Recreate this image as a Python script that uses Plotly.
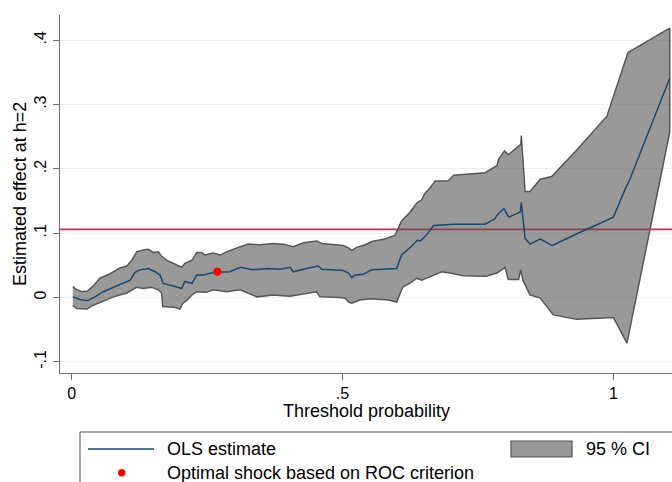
import plotly.graph_objects as go

# Upper bound of the 95% confidence band
x_upper = [0.002, 0.008, 0.019, 0.029, 0.040, 0.052, 0.071, 0.089, 0.102, 0.111,
           0.120, 0.132, 0.141, 0.151, 0.160, 0.166, 0.175, 0.188, 0.203, 0.209,
           0.222, 0.231, 0.240, 0.246, 0.261, 0.274, 0.286, 0.305, 0.326, 0.348,
           0.372, 0.391, 0.409, 0.428, 0.452, 0.462, 0.483, 0.501, 0.511, 0.517,
           0.526, 0.542, 0.554, 0.578, 0.597, 0.609, 0.625, 0.637, 0.646, 0.652,
           0.661, 0.671, 0.695, 0.705, 0.763, 0.785, 0.788, 0.799, 0.806, 0.829,
           0.830, 0.837, 0.846, 0.865, 0.886, 0.920, 0.932, 0.988, 1.027, 1.104]
upper = [0.017, 0.013, 0.009, 0.010, 0.018, 0.030, 0.037, 0.046, 0.049, 0.058,
         0.071, 0.074, 0.075, 0.070, 0.071, 0.064, 0.058, 0.053, 0.047, 0.053,
         0.058, 0.070, 0.070, 0.066, 0.069, 0.066, 0.071, 0.077, 0.083, 0.082,
         0.084, 0.083, 0.079, 0.085, 0.088, 0.084, 0.083, 0.081, 0.077, 0.073,
         0.078, 0.082, 0.087, 0.091, 0.097, 0.119, 0.133, 0.147, 0.152, 0.162,
         0.170, 0.181, 0.181, 0.190, 0.194, 0.205, 0.215, 0.228, 0.222, 0.238,
         0.252, 0.165, 0.165, 0.184, 0.188, 0.219, 0.229, 0.282, 0.381, 0.419]

# Lower bound of the 95% confidence band
x_lower = [0.002, 0.009, 0.028, 0.040, 0.052, 0.077, 0.102, 0.114, 0.120, 0.132,
           0.148, 0.160, 0.166, 0.168, 0.188, 0.200, 0.205, 0.212, 0.222, 0.231,
           0.249, 0.261, 0.286, 0.311, 0.342, 0.372, 0.403, 0.422, 0.452, 0.458,
           0.495, 0.505, 0.511, 0.517, 0.532, 0.551, 0.585, 0.600, 0.611, 0.626,
           0.637, 0.646, 0.661, 0.683, 0.698, 0.723, 0.765, 0.785, 0.800, 0.806,
           0.825, 0.829, 0.833, 0.846, 0.865, 0.889, 0.932, 1.000, 1.025, 1.104]
lower = [-0.012, -0.017, -0.018, -0.012, -0.007, 0.001, 0.007, 0.013, 0.016, 0.014,
         0.016, 0.012, 0.007, -0.014, -0.015, -0.018, -0.009, -0.005, 0.004, 0.009,
         0.008, 0.012, 0.009, 0.012, 0.001, 0.004, 0.002, 0.005, 0.009, 0.001,
         0.000, -0.001, -0.007, -0.009, -0.004, -0.002, -0.004, -0.007, 0.016, 0.023,
         0.030, 0.027, 0.032, 0.040, 0.038, 0.034, 0.033, 0.038, 0.047, 0.028,
         0.028, 0.043, 0.027, 0.004, -0.001, -0.027, -0.034, -0.031, -0.071, 0.257]

# OLS point estimate
x_est = [0.002, 0.015, 0.029, 0.043, 0.058, 0.077, 0.095, 0.108, 0.117, 0.126,
         0.141, 0.154, 0.163, 0.169, 0.188, 0.203, 0.209, 0.222, 0.231, 0.243,
         0.261, 0.292, 0.311, 0.335, 0.360, 0.385, 0.403, 0.409, 0.434, 0.455,
         0.462, 0.495, 0.501, 0.511, 0.517, 0.523, 0.538, 0.554, 0.582, 0.600,
         0.609, 0.628, 0.638, 0.644, 0.655, 0.668, 0.705, 0.763, 0.781, 0.786,
         0.798, 0.807, 0.828, 0.830, 0.837, 0.846, 0.865, 0.887, 0.935, 1.000,
         1.021, 1.031, 1.104]
est = [0.001, -0.003, -0.005, 0.001, 0.009, 0.016, 0.022, 0.027, 0.039, 0.043,
       0.045, 0.040, 0.035, 0.022, 0.018, 0.014, 0.025, 0.022, 0.035, 0.035,
       0.039, 0.040, 0.047, 0.043, 0.045, 0.044, 0.047, 0.040, 0.045, 0.049,
       0.044, 0.042, 0.042, 0.038, 0.031, 0.035, 0.036, 0.043, 0.044, 0.045,
       0.066, 0.080, 0.089, 0.088, 0.097, 0.112, 0.114, 0.114, 0.122, 0.129,
       0.138, 0.125, 0.133, 0.148, 0.092, 0.083, 0.091, 0.081, 0.100, 0.125,
       0.167, 0.185, 0.341]

# Optimal shock (ROC criterion) and reference level
opt_x = [0.269]
opt_y = [0.040]
ref_level = 0.106

x_ticks = [0, 0.5, 1]
x_tick_labels = ["0", ".5", "1"]
y_ticks = [-0.1, 0, 0.1, 0.2, 0.3, 0.4]
y_tick_labels = ["-.1", "0", ".1", ".2", ".3", ".4"]

FONT = "Liberation Sans, Arial, sans-serif"
NAVY = "#1a476f"
BAND_FILL = "rgba(85,85,85,0.6)"
BAND_LINE = "#575757"
RED_LINE = "#d0284e"
AXIS = "#6e6e6e"

W, H = 672, 482
ML, MR, MT, MB = 60, 0, 15, 109


def px_x(p):
    return (p - ML) / (W - ML - MR)


def px_y(p):
    return (H - MB - p) / (H - MT - MB)


fig = go.Figure()

# confidence band as one closed polygon
fig.add_trace(go.Scatter(
    x=x_upper + x_lower[::-1],
    y=upper + lower[::-1],
    fill="toself", fillcolor=BAND_FILL,
    line=dict(color=BAND_LINE, width=1.5),
    mode="lines", hoverinfo="skip", showlegend=False,
))

fig.add_trace(go.Scatter(
    x=x_est, y=est, mode="lines",
    line=dict(color=NAVY, width=1.5),
    showlegend=False,
))

fig.add_trace(go.Scatter(
    x=opt_x, y=opt_y, mode="markers",
    marker=dict(color="#ff0000", size=8),
    showlegend=False,
))

shapes = [
    dict(type="line", xref="paper", yref="y", x0=0, x1=1,
         y0=ref_level, y1=ref_level, layer="below",
         line=dict(color=RED_LINE, width=1.6)),
    # legend frame
    dict(type="rect", xref="paper", yref="paper",
         x0=px_x(80), x1=px_x(700), y0=px_y(432), y1=px_y(500),
         line=dict(color="#555555", width=1), fillcolor="white"),
    dict(type="line", xref="paper", yref="paper",
         x0=px_x(88), x1=px_x(154), y0=px_y(449), y1=px_y(449),
         line=dict(color=NAVY, width=1.5)),
    dict(type="rect", xref="paper", yref="paper",
         x0=px_x(511), x1=px_x(572), y0=px_y(441), y1=px_y(457),
         line=dict(color=BAND_LINE, width=1.2), fillcolor=BAND_FILL),
    dict(type="circle", xref="paper", yref="paper",
         x0=px_x(118), x1=px_x(125.4), y0=px_y(469), y1=px_y(476.4),
         line=dict(color="#ff0000", width=0), fillcolor="#ff0000"),
]

annotations = [
    dict(text="Estimated effect at h=2", xref="paper", yref="paper",
         x=px_x(20), y=0.5, textangle=-90, showarrow=False,
         xanchor="center", yanchor="middle", font=dict(size=18, color="black")),
    dict(text="Threshold probability", xref="paper", yref="paper",
         x=0.5, y=px_y(411), showarrow=False,
         xanchor="center", yanchor="middle", font=dict(size=18, color="black")),
    dict(text="OLS estimate", xref="paper", yref="paper",
         x=px_x(165), y=px_y(449), showarrow=False,
         xanchor="left", yanchor="middle", font=dict(size=18, color="black")),
    dict(text="95 % CI", xref="paper", yref="paper",
         x=px_x(584), y=px_y(449), showarrow=False,
         xanchor="left", yanchor="middle", font=dict(size=18, color="black")),
    dict(text="Optimal shock based on ROC criterion", xref="paper", yref="paper",
         x=px_x(165), y=px_y(472.5), showarrow=False,
         xanchor="left", yanchor="middle", font=dict(size=18, color="black")),
]

fig.update_layout(
    width=W, height=H,
    margin=dict(l=ML, r=MR, t=MT, b=MB),
    paper_bgcolor="white", plot_bgcolor="white",
    font=dict(family=FONT, size=16, color="black"),
    showlegend=False,
    shapes=shapes,
    annotations=annotations,
    xaxis=dict(
        range=[-0.0216, 1.1082],
        tickvals=x_ticks, ticktext=x_tick_labels,
        showgrid=False, zeroline=False,
        showline=True, linecolor=AXIS, linewidth=1.3,
        ticks="outside", ticklen=6, tickcolor=AXIS, tickwidth=1.3,
        tickfont=dict(size=16, color="black"),
    ),
    yaxis=dict(
        range=[-0.1174, 0.4393],
        tickvals=y_ticks, ticktext=y_tick_labels, tickangle=-90,
        showgrid=True, gridcolor="#e9f0f2", gridwidth=1, zeroline=False,
        showline=True, linecolor=AXIS, linewidth=1.3,
        ticks="outside", ticklen=6, tickcolor=AXIS, tickwidth=1.3,
        tickfont=dict(size=16, color="black"),
    ),
)

fig.write_html("out.html")
